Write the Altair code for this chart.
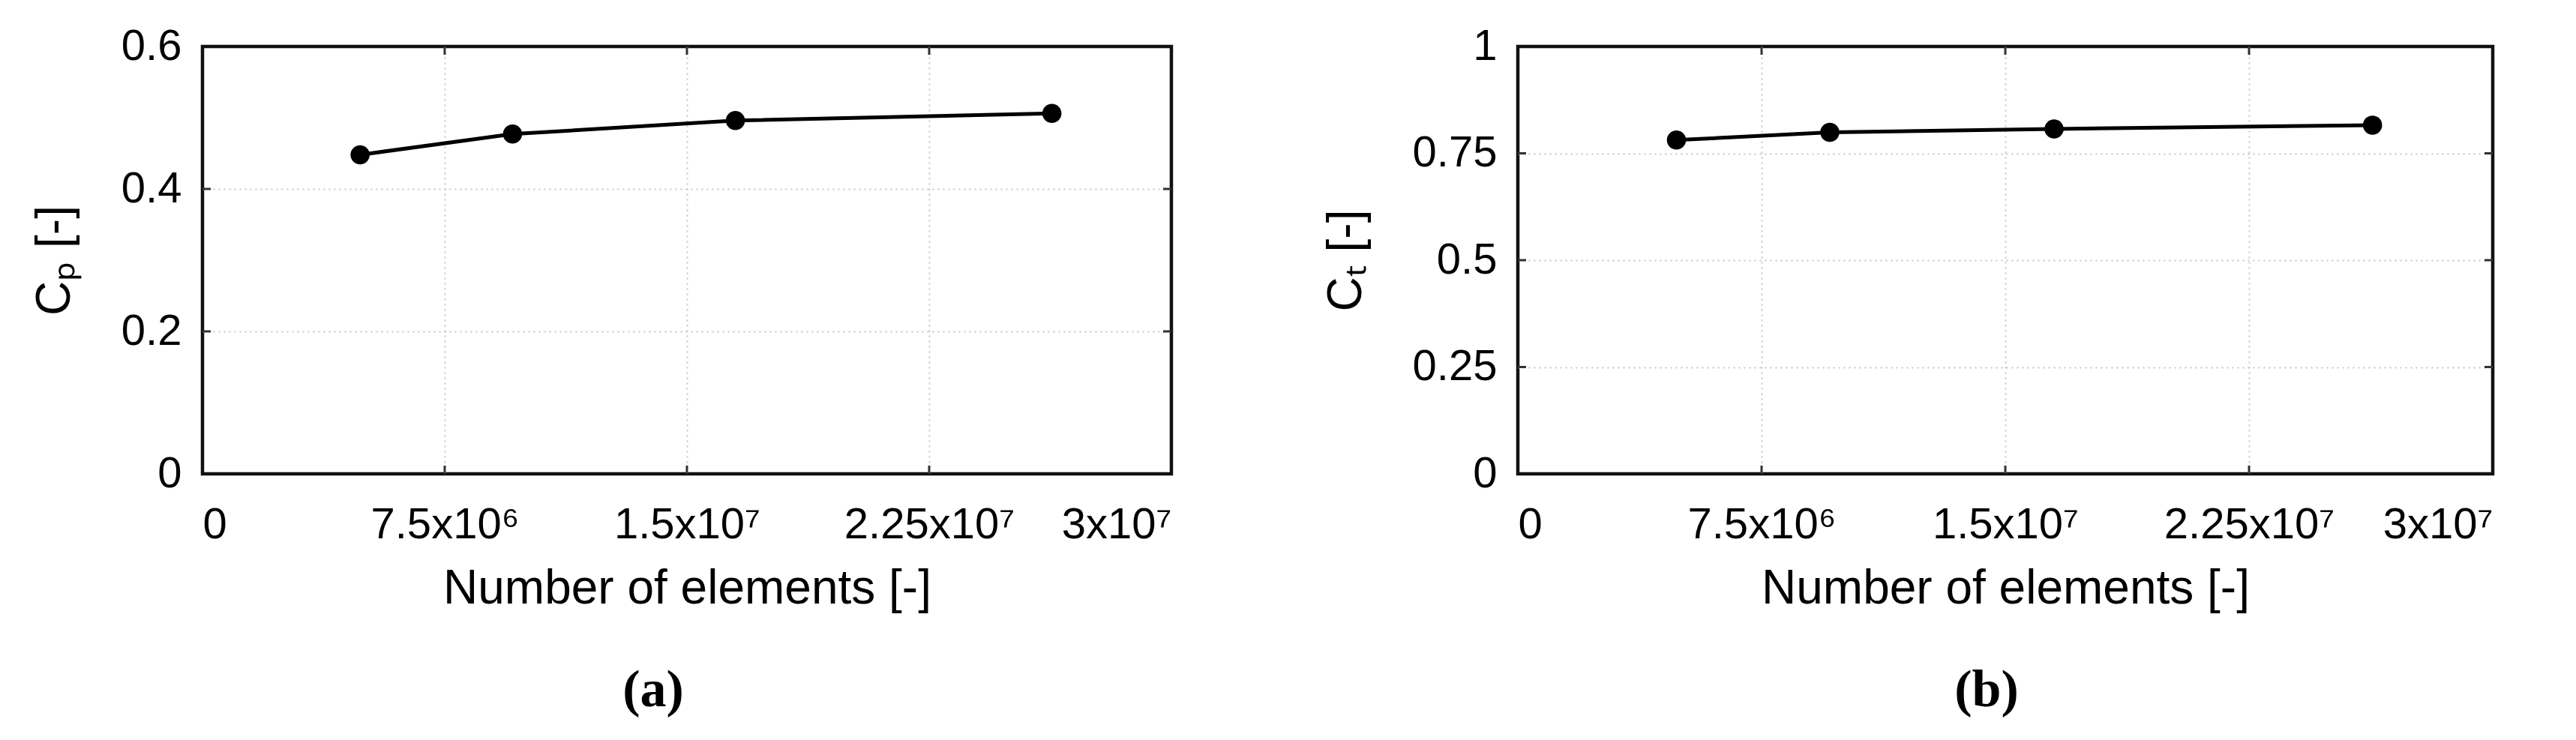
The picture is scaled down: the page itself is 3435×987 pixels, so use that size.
import altair as alt
import pandas as pd

# ---- data ----
elements = [4.88e6, 9.6e6, 1.65e7, 2.63e7]
cp_values = [0.448, 0.477, 0.496, 0.506]
ct_values = [0.781, 0.799, 0.807, 0.816]

x_ticks = [0, 7.5e6, 1.5e7, 2.25e7, 3e7]
x_tick_labels = ["0", "7.5x10⁶", "1.5x10⁷", "2.25x10⁷", "3x10⁷"]
cp_ticks = [0, 0.2, 0.4, 0.6]
ct_ticks = [0, 0.25, 0.5, 0.75, 1]

x_title = "Number of elements [-]"
cp_title = "Cₚ [-]"
ct_title = "Cₜ [-]"
panel_labels = ["(a)", "(b)"]

XMAX = x_ticks[-1]
label_expr = " : ".join(
    f"datum.value == {v} ? '{l}'" for v, l in zip(x_ticks, x_tick_labels)
) + " : ''"


def panel(yvals, yticks, ytitle, label, width, height, dx):
    ymax = yticks[-1]
    df = pd.DataFrame({"elements": elements, "coef": yvals})

    grid_test_x = f"datum.value == 0 || datum.value == {XMAX}"
    grid_test_y = f"datum.value == 0 || datum.value == {ymax}"

    xs = alt.X(
        "elements:Q",
        scale=alt.Scale(domain=[0, XMAX], nice=False, zero=False),
        axis=alt.Axis(
            values=x_ticks,
            labelExpr=label_expr,
            title=x_title,
            labelPadding=39,
            titlePadding=24,
            gridOpacity={"condition": {"test": grid_test_x, "value": 0}, "value": 1},
        ),
    )
    ys = alt.Y(
        "coef:Q",
        scale=alt.Scale(domain=[0, ymax], nice=False, zero=False),
        axis=alt.Axis(
            values=yticks,
            format=".3~g",
            title=ytitle,
            labelPadding=28,
            titlePadding=56,
            gridOpacity={"condition": {"test": grid_test_y, "value": 0}, "value": 1},
        ),
    )

    line = alt.Chart(df).mark_line(color="black", strokeWidth=5).encode(x=xs, y=ys)
    pts = alt.Chart(df).mark_point(
        filled=True, shape="circle", size=650, color="black", opacity=1
    ).encode(x=xs, y=ys)

    # inward tick marks on all four sides of the box
    lx = 11 / width * XMAX
    ly = 11 / height * ymax
    rows = []
    for yt in yticks[1:-1]:
        rows.append({"elements": 0, "elements2": lx, "coef": yt, "coef2": yt})
        rows.append({"elements": XMAX - lx, "elements2": XMAX, "coef": yt, "coef2": yt})
    for xt in x_ticks[1:-1]:
        rows.append({"elements": xt, "elements2": xt, "coef": 0, "coef2": ly})
        rows.append({"elements": xt, "elements2": xt, "coef": ymax - ly, "coef2": ymax})
    tdf = pd.DataFrame(rows)
    ticks = alt.Chart(tdf).mark_rule(color="#333333", strokeWidth=3).encode(
        x=xs, x2="elements2:Q", y=ys, y2="coef2:Q"
    )

    return alt.layer(ticks, line, pts).properties(
        width=width,
        height=height,
        title=alt.TitleParams(
            text=label,
            orient="bottom",
            anchor="middle",
            frame="group",
            font="Liberation Serif",
            fontSize=70,
            fontWeight="bold",
            color="black",
            offset=70,
            dx=dx,
        ),
    )


left = panel(cp_values, cp_ticks, cp_title, panel_labels[0], 1292, 570, -45)
right = panel(ct_values, ct_ticks, ct_title, panel_labels[1], 1300, 570, -25)

chart = (
    alt.hconcat(left, right, spacing=194)
    .properties(
        padding={"left": 31, "top": 22, "right": 5, "bottom": 5},
        background="white",
    )
    .configure_view(stroke="#111111", strokeWidth=4.5)
    .configure_axis(
        domain=False,
        ticks=False,
        tickSize=0,
        grid=True,
        gridColor="#c4c4c4",
        gridDash=[2, 5],
        gridWidth=2,
        labelFont="Liberation Sans",
        labelFontSize=58,
        labelColor="black",
        labelLimit=0,
        titleFont="Liberation Sans",
        titleFontSize=64,
        titleFontWeight="normal",
        titleColor="black",
        titleLimit=0,
    )
)

chart.save("out.html", embed_options={"renderer": "svg", "actions": False})
